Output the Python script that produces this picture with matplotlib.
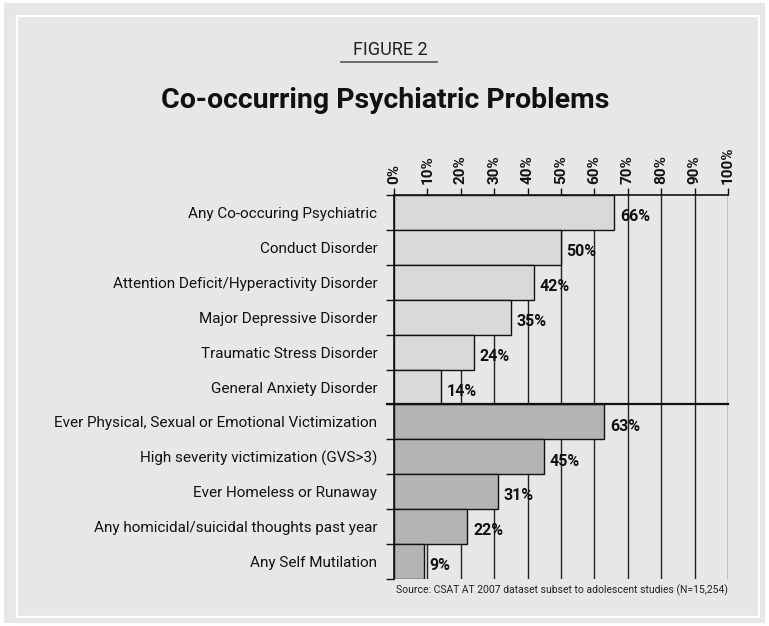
import matplotlib.pyplot as plt
from matplotlib.patches import Rectangle
from matplotlib.lines import Line2D

categories = ['Any Co-occuring Psychiatric', 'Conduct Disorder',
              'Attention Deficit/Hyperactivity Disorder', 'Major Depressive Disorder',
              'Traumatic Stress Disorder', 'General Anxiety Disorder',
              'Ever Physical, Sexual or Emotional Victimization',
              'High severity victimization (GVS>3)', 'Ever Homeless or Runaway',
              'Any homicidal/suicidal thoughts past year', 'Any Self Mutilation']
values = [66, 50, 42, 35, 24, 14, 63, 45, 31, 22, 9]
groups = [0, 0, 0, 0, 0, 0, 1, 1, 1, 1, 1]
ticks = list(range(0, 101, 10))

narrow = ['Roboto', 'DejaVu Sans']
W, H = 769, 626
bg = '#e6e7e8'
group_colors = ['#d9d9d9', '#b4b4b4']

fig = plt.figure(figsize=(W / 100, H / 100), dpi=100)
fig.patch.set_facecolor('white')
fig.patches.append(Rectangle((4 / W, 3 / H), 761 / W, 620 / H, transform=fig.transFigure,
                             facecolor=bg, edgecolor='none', zorder=-3))
fig.patches.append(Rectangle((17 / W, 1 - 617 / H), 742 / W, 601 / H, transform=fig.transFigure,
                             facecolor='none', edgecolor='white', lw=1.5, zorder=-2))

ax = fig.add_axes([394 / W, 1 - 579 / H, 334 / W, 384 / H])
ax.patch.set_visible(False)

n = len(categories)
ypos = [i + 0.5 for i in range(n)]
for t in ticks[1:]:
    ax.axvline(t, color='#222222', lw=1.0, zorder=1)
ax.barh(ypos, values, height=1.0, color=[group_colors[g] for g in groups],
        edgecolor='#111111', lw=1.0, zorder=2)
for y, v in zip(ypos, values):
    ax.annotate(f'{v}%', (v, y + 0.12), xytext=(4, 0), textcoords='offset points',
                va='center', ha='left', fontsize=11.5, fontweight='bold', family=narrow,
                color='#111111', zorder=3)

# separator between the two groups
split = groups.index(1)
ax.add_line(Line2D([-2, 100], [split, split], color='#111111', lw=1.6, clip_on=False, zorder=4))

ax.set_xlim(0, 100)
ax.set_ylim(n, 0)
ax.xaxis.tick_top()
ax.set_xticks(ticks)
ax.set_xticklabels([f'{t}%' for t in ticks], rotation=90, fontsize=11, fontweight='bold',
                   family=narrow, color='#111111')
ax.tick_params(axis='x', length=5, width=1, pad=3, color='#111111')

ax.set_yticks(range(n + 1))
ax.set_yticklabels([])
ax.set_yticks(ypos, minor=True)
ax.set_yticklabels(categories, minor=True, fontsize=11, family=narrow, color='#111111')
ax.tick_params(axis='y', which='major', length=6, width=1, color='#111111')
ax.tick_params(axis='y', which='minor', length=0, pad=12)

for s in ['right', 'bottom']:
    ax.spines[s].set_visible(False)
for s in ['left', 'top']:
    ax.spines[s].set_color('#111111')
    ax.spines[s].set_linewidth(1.2)

fig.text(390 / W, 1 - 50 / H, 'FIGURE 2', ha='center', va='center', fontsize=13,
         family=narrow, color='#222222')
fig.add_artist(Line2D([341 / W, 437 / W], [1 - 62 / H, 1 - 62 / H], color='#555555', lw=1.2))
fig.text(385 / W, 1 - 101 / H, 'Co-occurring Psychiatric Problems', ha='center', va='center',
         fontsize=20.5, fontweight='bold', family=narrow, color='#111111')
fig.text(728 / W, 1 - 590 / H, 'Source: CSAT AT 2007 dataset subset to adolescent studies (N=15,254)',
         ha='right', va='center', fontsize=7.5, family=narrow, color='#222222')

fig.savefig('out.png', dpi=100, facecolor=fig.get_facecolor())
